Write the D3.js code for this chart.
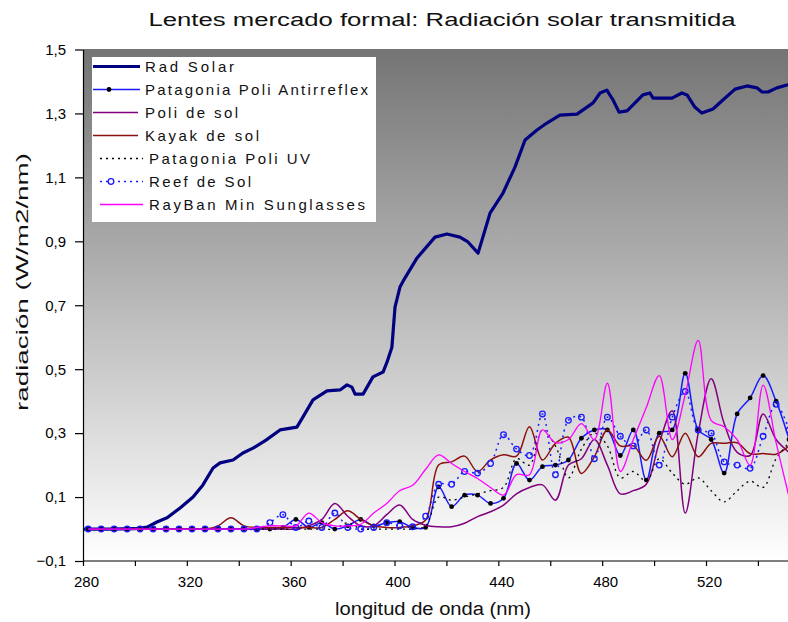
<!DOCTYPE html>
<html>
<head>
<meta charset="utf-8">
<script src="https://cdnjs.cloudflare.com/ajax/libs/d3/7.8.5/d3.min.js"></script>
<style>
  html, body { margin: 0; padding: 0; background: #ffffff; }
  svg { display: block; font-family: "Liberation Sans", Arial, sans-serif; }
</style>
</head>
<body>
<svg id="chart" width="788" height="622"></svg>
<script>
// ---------- DATA ----------
const titleText = "Lentes mercado formal: Radiación solar transmitida";
const xAxisTitle = "longitud de onda (nm)";
const yAxisTitle = "radiación (W/m2/nm)";

const yTickValues = [-0.1, 0.1, 0.3, 0.5, 0.7, 0.9, 1.1, 1.3, 1.5];
const xTickValues = [280, 300, 320, 340, 360, 380, 400, 420, 440, 460, 480, 500, 520, 540, 560];
const xLabelValues = [280, 320, 360, 400, 440, 480, 520];

// Rad Solar (dense spectrum)
const radNm = [280, 290, 300, 304.7, 308.5, 312.4, 317.4, 322.4, 326.2, 330.1, 332.8, 337.8, 341.6, 345.5, 350.5,
  355.9, 362.4, 364.7, 368.6, 374, 379, 381.7, 383.6, 384.8, 387.9, 391.7, 395.6, 397.1, 399, 400.2, 402.1, 404,
  408.7, 415.6, 420.2, 425.2, 428.3, 432.2, 436.8, 441.8, 446.4, 450.3, 454.9, 458.7, 463.7, 470.3, 476.5, 479.2,
  481.8, 484.2, 486.5, 489.6, 495.7, 498.4, 499.6, 506.9, 510.7, 512.7, 515.7, 518.4, 522.7, 526.5, 531.2, 535.8,
  539.6, 541.6, 543.9, 547.3, 551.2, 555];
const radSolar = [0, 0, 0.001, 0.006, 0.022, 0.035, 0.066, 0.1, 0.138, 0.191, 0.207, 0.216, 0.238, 0.253, 0.278,
  0.31, 0.319, 0.35, 0.404, 0.432, 0.435, 0.451, 0.444, 0.422, 0.422, 0.476, 0.491, 0.522, 0.569, 0.694, 0.757, 0.785,
  0.848, 0.913, 0.923, 0.913, 0.898, 0.863, 0.988, 1.051, 1.132, 1.217, 1.248, 1.27, 1.295, 1.298, 1.333, 1.364,
  1.373, 1.342, 1.304, 1.308, 1.358, 1.364, 1.348, 1.348, 1.364, 1.358, 1.32, 1.301, 1.314, 1.342, 1.376, 1.386,
  1.38, 1.367, 1.367, 1.38, 1.389, 1.39];

// Lens series sampled every 5 nm
const lensNm = [282, 287, 292, 297, 302, 307, 312, 317, 322, 327, 332, 337, 342, 347, 352, 357, 362, 367, 372, 377,
  382, 387, 392, 397, 402, 407, 412, 417, 422, 427, 432, 437, 442, 447, 452, 457, 462, 467, 472, 477, 482, 487,
  492, 497, 502, 507, 512, 517, 522, 527, 532, 537, 542, 547, 552];

const patagoniaAntirreflex = [0, 0, 0, 0, 0, 0, 0, 0, 0, 0, 0, 0, 0, 0, 0, 0.005, 0.03, 0.005, 0.02, 0, 0.01, 0.03,
  0.01, 0.02, 0.023, 0.005, 0.005, 0.132, 0.07, 0.106, 0.106, 0.08, 0.096, 0.205, 0.153, 0.195, 0.2, 0.216, 0.284,
  0.31, 0.31, 0.23, 0.31, 0.153, 0.3, 0.31, 0.487, 0.31, 0.28, 0.175, 0.36, 0.41, 0.48, 0.4, 0.28];
const poliDeSol = [0, 0, 0, 0, 0, 0, 0, 0, 0, 0, 0, 0, 0, 0, 0, 0, 0, 0.01, 0.03, 0.08, 0.04, 0.01, 0.01, 0.045,
  0.075, 0.03, 0.012, 0.007, 0.007, 0.018, 0.039, 0.054, 0.075, 0.11, 0.13, 0.138, 0.09, 0.2, 0.22, 0.28, 0.2,
  0.11, 0.12, 0.14, 0.27, 0.37, 0.05, 0.3, 0.47, 0.33, 0.24, 0.23, 0.36, 0.28, 0.24];
const kayakDeSol = [0, 0, 0, 0, 0, 0, 0, 0, 0, 0, 0.01, 0.035, 0.01, 0.005, 0.005, 0.005, 0.005, 0.005, 0.005,
  0.03, 0.057, 0.03, 0.01, 0.005, 0.005, 0.01, 0.028, 0.2, 0.21, 0.228, 0.18, 0.216, 0.232, 0.228, 0.32, 0.216,
  0.268, 0.287, 0.174, 0.226, 0.31, 0.26, 0.26, 0.215, 0.29, 0.226, 0.3, 0.226, 0.268, 0.268, 0.27, 0.236, 0.236,
  0.234, 0.26];
const patagoniaUV = [0, 0, 0, 0, 0, 0, 0, 0, 0, 0, 0, 0, 0, 0, 0, 0, 0, 0, 0, 0, 0.02, 0, 0, 0, 0, 0, 0.01, 0.1,
  0.09, 0.1, 0.11, 0.12, 0.13, 0.22, 0.2, 0.31, 0.26, 0.16, 0.25, 0.3, 0.26, 0.16, 0.18, 0.15, 0.22, 0.175, 0.14,
  0.16, 0.12, 0.085, 0.12, 0.15, 0.13, 0.22, 0.27];
const reefDeSol = [0, 0, 0, 0, 0, 0, 0, 0, 0, 0, 0, 0, 0, 0, 0.02, 0.045, 0.005, 0.025, 0.005, 0.05, 0.005, 0,
  0.005, 0.02, 0.01, 0.007, 0.04, 0.14, 0.14, 0.18, 0.175, 0.205, 0.295, 0.25, 0.23, 0.36, 0.17, 0.34, 0.35, 0.22,
  0.35, 0.29, 0.26, 0.31, 0.2, 0.35, 0.43, 0.31, 0.3, 0.21, 0.2, 0.19, 0.29, 0.39, 0.31];
const rayBan = [0, 0, 0, 0, 0, 0, 0, 0, 0, 0, 0, 0, 0, 0.005, 0.01, 0.01, 0.01, 0.05, 0.02, 0.01, 0.01, 0.015,
  0.05, 0.08, 0.12, 0.137, 0.187, 0.232, 0.205, 0.18, 0.158, 0.13, 0.106, 0.17, 0.17, 0.31, 0.27, 0.28, 0.33, 0.28,
  0.456, 0.18, 0.28, 0.38, 0.48, 0.28, 0.42, 0.59, 0.34, 0.32, 0.28, 0.2, 0.45, 0.27, 0.1];

const seriesNames = ["Rad Solar", "Patagonia Poli Antirreflex", "Poli de sol", "Kayak de sol",
  "Patagonia Poli UV", "Reef de Sol", "RayBan Min Sunglasses"];

// ---------- LAYOUT ----------
const svg = d3.select("#chart");
const plot = { left: 83, top: 49, right: 788, bottom: 561 };

const x = d3.scaleLinear().domain([280, 520]).range([83, 706]);
const y = d3.scaleLinear().domain([-0.1, 1.5]).range([561, 49.5]);

const defs = svg.append("defs");
const grad = defs.append("linearGradient").attr("id", "bg").attr("x1", 0).attr("y1", 0).attr("x2", 0).attr("y2", 1);
grad.append("stop").attr("offset", "0%").attr("stop-color", "#747474");
grad.append("stop").attr("offset", "100%").attr("stop-color", "#ffffff");
defs.append("clipPath").attr("id", "clip").append("rect")
  .attr("x", plot.left).attr("y", plot.top - 4).attr("width", plot.right - plot.left).attr("height", plot.bottom - plot.top + 4);

svg.append("rect").attr("x", plot.left).attr("y", plot.top)
  .attr("width", plot.right - plot.left).attr("height", plot.bottom - plot.top)
  .attr("fill", "url(#bg)");

// ---------- SERIES ----------
const g = svg.append("g").attr("clip-path", "url(#clip)");
const smooth = d3.line().x(d => x(d[0])).y(d => y(d[1])).curve(d3.curveCatmullRom.alpha(0.5));
const straight = d3.line().x(d => x(d[0])).y(d => y(d[1]));

const lensSeries = [
  { name: seriesNames[1], vals: patagoniaAntirreflex, color: "#1a1aff", width: 1.5, dash: null, marker: "dot" },
  { name: seriesNames[2], vals: poliDeSol, color: "#800080", width: 1.5, dash: null, marker: null },
  { name: seriesNames[3], vals: kayakDeSol, color: "#8b1010", width: 1.5, dash: null, marker: null },
  { name: seriesNames[4], vals: patagoniaUV, color: "#000000", width: 1.3, dash: "2,4", marker: null },
  { name: seriesNames[5], vals: reefDeSol, color: "#1a1aff", width: 1.5, dash: "2,4", marker: "circle" },
  { name: seriesNames[6], vals: rayBan, color: "#ff00ff", width: 1.3, dash: null, marker: null }
];

g.append("path")
  .datum(radNm.map((n, i) => [n, radSolar[i]]))
  .attr("d", straight)
  .attr("fill", "none").attr("stroke", "#000080").attr("stroke-width", 3.2).attr("stroke-linejoin", "round");

lensSeries.forEach(s => {
  const pts = lensNm.map((n, i) => [n, s.vals[i]]);
  g.append("path").datum(pts).attr("d", smooth)
    .attr("fill", "none").attr("stroke", s.color).attr("stroke-width", s.width)
    .attr("stroke-dasharray", s.dash);
  if (s.marker === "dot") {
    g.selectAll(null).data(pts).enter().append("circle")
      .attr("cx", d => x(d[0])).attr("cy", d => y(d[1])).attr("r", 2.4).attr("fill", "#000000");
  } else if (s.marker === "circle") {
    g.selectAll(null).data(pts).enter().append("circle")
      .attr("cx", d => x(d[0])).attr("cy", d => y(d[1])).attr("r", 2.8)
      .attr("fill", "none").attr("stroke", s.color).attr("stroke-width", 1.3);
  }
});

// ---------- AXES ----------
const fmt = d => d3.format(".1f")(d).replace(".", ",");
const yAxis = svg.append("g").attr("transform", `translate(${plot.left},0)`)
  .call(d3.axisLeft(y).tickValues(yTickValues).tickSize(8).tickSizeOuter(0).tickPadding(9).tickFormat(fmt));
const xAxis = svg.append("g").attr("transform", `translate(0,${plot.bottom})`)
  .call(d3.axisBottom(x).tickValues(xTickValues).tickSize(5).tickSizeOuter(0).tickPadding(10)
    .tickFormat(d => xLabelValues.includes(d) ? String(d) : ""));
[yAxis, xAxis].forEach(a => {
  a.select(".domain").attr("stroke", "#000").attr("stroke-width", 1.2);
  a.selectAll(".tick line").attr("stroke", "#000").attr("stroke-width", 1.2);
  a.selectAll(".tick text").attr("font-size", 15).attr("fill", "#000")
    .attr("font-family", "'Liberation Sans', Arial, sans-serif");
});
xAxis.selectAll(".tick text").attr("dx", 3);
xAxis.select(".domain").attr("d", `M${plot.left},0H${plot.right + 20}`);

// ---------- TEXT ----------
svg.append("text").attr("x", 442).attr("y", 26).attr("text-anchor", "middle")
  .attr("font-size", 18).attr("textLength", 587).attr("lengthAdjust", "spacingAndGlyphs")
  .attr("fill", "#111").text(titleText);
svg.append("text").attr("x", 433).attr("y", 615).attr("text-anchor", "middle")
  .attr("font-size", 18).attr("textLength", 196).attr("lengthAdjust", "spacingAndGlyphs")
  .attr("fill", "#111").text(xAxisTitle);
svg.append("text").attr("transform", "translate(28,282) rotate(-90)").attr("text-anchor", "middle")
  .attr("font-size", 17).attr("textLength", 258).attr("lengthAdjust", "spacingAndGlyphs")
  .attr("fill", "#111").text(yAxisTitle);

// ---------- LEGEND ----------
const leg = svg.append("g");
leg.append("rect").attr("x", 92).attr("y", 57).attr("width", 284).attr("height", 165).attr("fill", "#ffffff");
const legRows = [
  { name: seriesNames[0], color: "#000080", width: 3.2, dash: null, marker: null, x1: 93, x2: 140, tx: 145, tl: 89 },
  { name: seriesNames[1], color: "#1a1aff", width: 1.5, dash: null, marker: "dot", x1: 93, x2: 140, tx: 145, tl: 223 },
  { name: seriesNames[2], color: "#800080", width: 1.5, dash: null, marker: null, x1: 93, x2: 138, tx: 145, tl: 93 },
  { name: seriesNames[3], color: "#8b1010", width: 1.5, dash: null, marker: null, x1: 93, x2: 138, tx: 145, tl: 114 },
  { name: seriesNames[4], color: "#000000", width: 1.3, dash: "2,4", marker: null, x1: 100, x2: 143, tx: 149, tl: 161 },
  { name: seriesNames[5], color: "#1a1aff", width: 1.5, dash: "2,4", marker: "circle", x1: 100, x2: 143, tx: 149, tl: 102 },
  { name: seriesNames[6], color: "#ff00ff", width: 1.3, dash: null, marker: null, x1: 100, x2: 143, tx: 149, tl: 216 }
];
legRows.forEach((r, i) => {
  const cy = 66.5 + i * 23;
  leg.append("line").attr("x1", r.x1).attr("x2", r.x2).attr("y1", cy).attr("y2", cy)
    .attr("stroke", r.color).attr("stroke-width", r.width).attr("stroke-dasharray", r.dash);
  if (r.marker === "dot") {
    leg.append("circle").attr("cx", 109).attr("cy", cy).attr("r", 2.4).attr("fill", "#000");
  } else if (r.marker === "circle") {
    leg.append("circle").attr("cx", 111).attr("cy", cy).attr("r", 2.8).attr("fill", "#fff")
      .attr("stroke", r.color).attr("stroke-width", 1.3);
  }
  leg.append("text").attr("x", r.tx).attr("y", cy + 5).attr("font-size", 15)
    .attr("textLength", r.tl).attr("lengthAdjust", "spacing").attr("fill", "#111").text(r.name);
});
</script>
</body>
</html>
